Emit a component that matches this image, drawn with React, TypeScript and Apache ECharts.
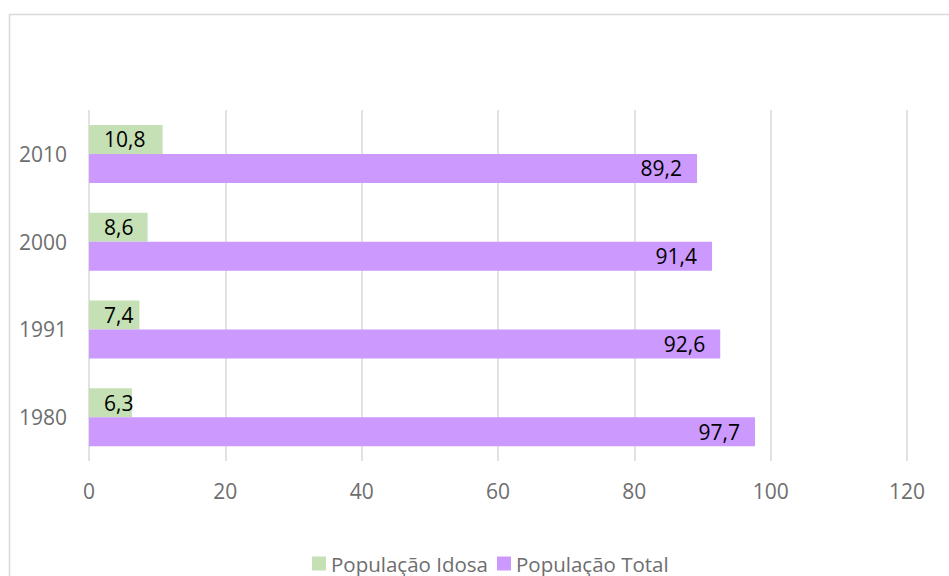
import React, { useEffect, useRef } from "react";
import * as echarts from "echarts";

const categories = ["1980", "1991", "2000", "2010"];
const idosa = [6.3, 7.4, 8.6, 10.8];
const total = [97.7, 92.6, 91.4, 89.2];
const seriesNames = ["População Idosa", "População Total"];

const FONT = "'Open Sans', 'Liberation Sans', sans-serif";
const AXIS_GRAY = "#6e6e6e";

export default function App() {
  const ref = useRef<HTMLDivElement>(null);
  useEffect(() => {
    if (!ref.current) return;
    const chart = echarts.init(ref.current, null, { renderer: "svg" });
    const fmt = (p: any) => String(p.value).replace(".", ",");
    const labelCfg = (position: string, distance: number) => ({
      show: true,
      position,
      distance,
      color: "#000",
      fontSize: 21,
      fontFamily: FONT,
      formatter: fmt,
    });
    chart.setOption({
      animation: false,
      textStyle: { fontFamily: FONT },
      graphic: [
        {
          type: "rect",
          shape: { x: 9.5, y: 14.5, width: 1000, height: 700 },
          style: { fill: "none", stroke: "#d9d9d9", lineWidth: 1.5 },
          silent: true,
        },
      ],
      grid: { left: 89, right: 42, top: 110, bottom: 115, containLabel: false },
      legend: {
        left: 312,
        top: 553,
        itemWidth: 14,
        itemHeight: 14,
        itemGap: 9,
        icon: "rect",
        padding: 0,
        textStyle: {
          color: AXIS_GRAY,
          fontSize: 20.5,
          lineHeight: 20,
          fontFamily: FONT,
        },
        data: seriesNames,
      },
      xAxis: {
        type: "value",
        min: 0,
        max: 120,
        interval: 20,
        axisLine: { show: false },
        axisTick: { show: false },
        splitLine: { show: true, lineStyle: { color: "#d9d9d9", width: 1.5 } },
        axisLabel: { color: AXIS_GRAY, fontSize: 21, margin: 19, fontFamily: FONT },
      },
      yAxis: {
        type: "category",
        data: categories,
        axisLine: { show: false },
        axisTick: { show: false },
        axisLabel: { color: AXIS_GRAY, fontSize: 21, margin: 22, fontFamily: FONT },
      },
      series: [
        {
          name: seriesNames[0],
          type: "bar",
          data: idosa,
          barWidth: 29,
          barGap: "0%",
          barCategoryGap: "34%",
          itemStyle: { color: "#c5e0b4" },
          label: labelCfg("insideLeft", 15),
        },
        {
          name: seriesNames[1],
          type: "bar",
          data: total,
          barWidth: 29,
          barGap: "0%",
          itemStyle: { color: "#cc99ff" },
          label: labelCfg("insideRight", 15),
        },
      ],
    });
    return () => chart.dispose();
  }, []);
  return (
    <div
      ref={ref}
      style={{ position: "fixed", left: 0, top: 0, width: 949, height: 576, background: "#fff" }}
    />
  );
}
